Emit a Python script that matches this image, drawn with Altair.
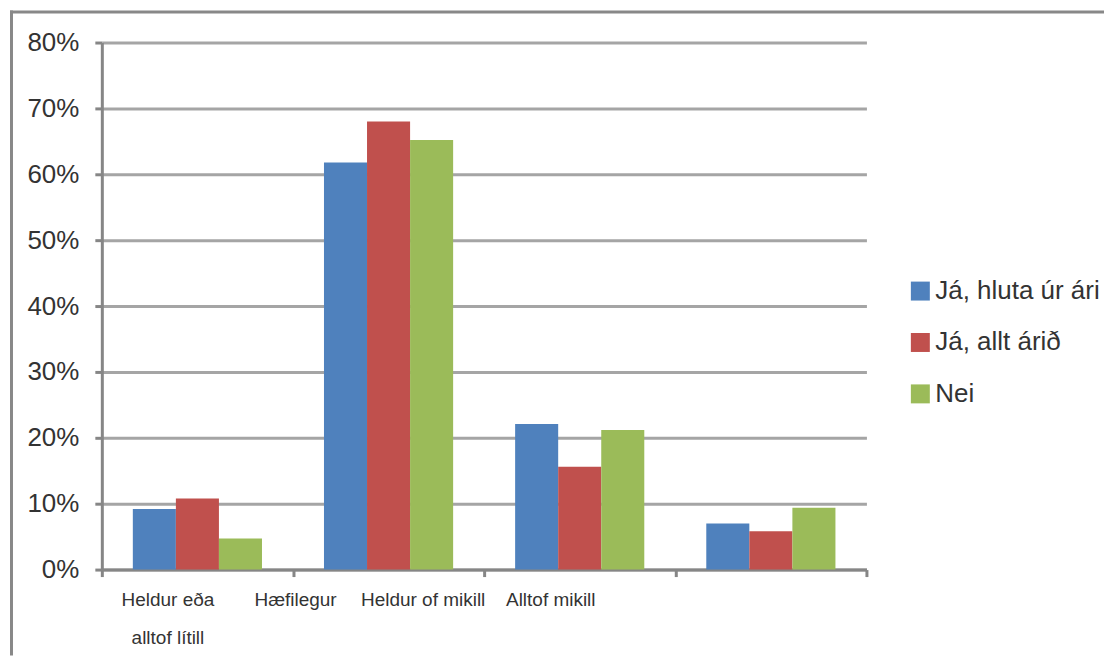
import altair as alt
import pandas as pd

categories = ["Heldur eða alltof lítill", "Hæfilegur", "Heldur of mikill", "Alltof mikill"]
series = ["Já, hluta úr ári", "Já, allt árið", "Nei"]
vals_hluta = [9.2, 61.8, 22.1, 7.0]
vals_allt = [10.8, 68.0, 15.6, 5.8]
vals_nei = [4.7, 65.2, 21.2, 9.4]
colors = ["#4F81BD", "#C0504D", "#9BBB59"]
y_ticks = [0, 0.1, 0.2, 0.3, 0.4, 0.5, 0.6, 0.7, 0.8]

rows = []
for s, vals in zip(series, [vals_hluta, vals_allt, vals_nei]):
    for c, v in zip(categories, vals):
        rows.append({"cat": c, "series": s, "value": v / 100})
df = pd.DataFrame(rows)

FONT = "Liberation Sans"
TXT = "#333333"
AXIS = "#868686"

bars = alt.Chart(df).mark_bar().encode(
    x=alt.X("cat:N", sort=categories, title=None,
            scale=alt.Scale(paddingInner=0, paddingOuter=0),
            axis=alt.Axis(labelAngle=0, tickBand="extent", tickSize=7, tickWidth=3,
                          tickColor=AXIS, domainColor=AXIS, domainWidth=3,
                          labelFont=FONT, labelFontSize=19, labelColor=TXT,
                          labelPadding=14, labelLineHeight=38,
                          labelOffset=alt.ExprRef("-30 - 191*datum.index"),
                          labelExpr="datum.label == 'Heldur eða alltof lítill' ? ['Heldur eða', 'alltof lítill'] : datum.label",
                          grid=False)),
    xOffset=alt.XOffset("series:N", sort=series,
                        scale=alt.Scale(paddingInner=0, paddingOuter=0.72)),
    y=alt.Y("value:Q", title=None,
            scale=alt.Scale(domain=[0, 0.8], nice=False),
            axis=alt.Axis(values=y_ticks, format=".0%", tickSize=7, tickWidth=3,
                          tickColor=AXIS, domainColor=AXIS, domainWidth=3,
                          labelFont=FONT, labelFontSize=26, labelColor=TXT,
                          labelPadding=16, grid=True, gridColor="#A5A5A5",
                          gridWidth=3)),
    color=alt.Color("series:N", sort=series, title=None,
                    scale=alt.Scale(domain=series, range=colors),
                    legend=alt.Legend(orient="none", legendX=807, legendY=236,
                                      symbolType="square", symbolSize=361,
                                      symbolStrokeWidth=0, labelFont=FONT,
                                      labelFontSize=26, labelColor=TXT, labelLimit=0,
                                      labelOffset=2, rowPadding=25.5, padding=0)),
)

frame = alt.Data(values=[{"k": 1}])
left_border = alt.Chart(frame).mark_rule(color="#888888", strokeWidth=3).encode(
    x=alt.value(-90.5), y=alt.value(-32), y2=alt.value(614))
top_border = alt.Chart(frame).mark_rule(color="#888888", strokeWidth=3).encode(
    x=alt.value(-92), x2=alt.value(1004), y=alt.value(-30.5))

chart = alt.layer(bars, left_border, top_border).properties(
    width=766, height=528, padding=0, background="white"
).configure_view(stroke=None)

chart.save("out.html", embed_options={"renderer": "svg", "actions": False})
